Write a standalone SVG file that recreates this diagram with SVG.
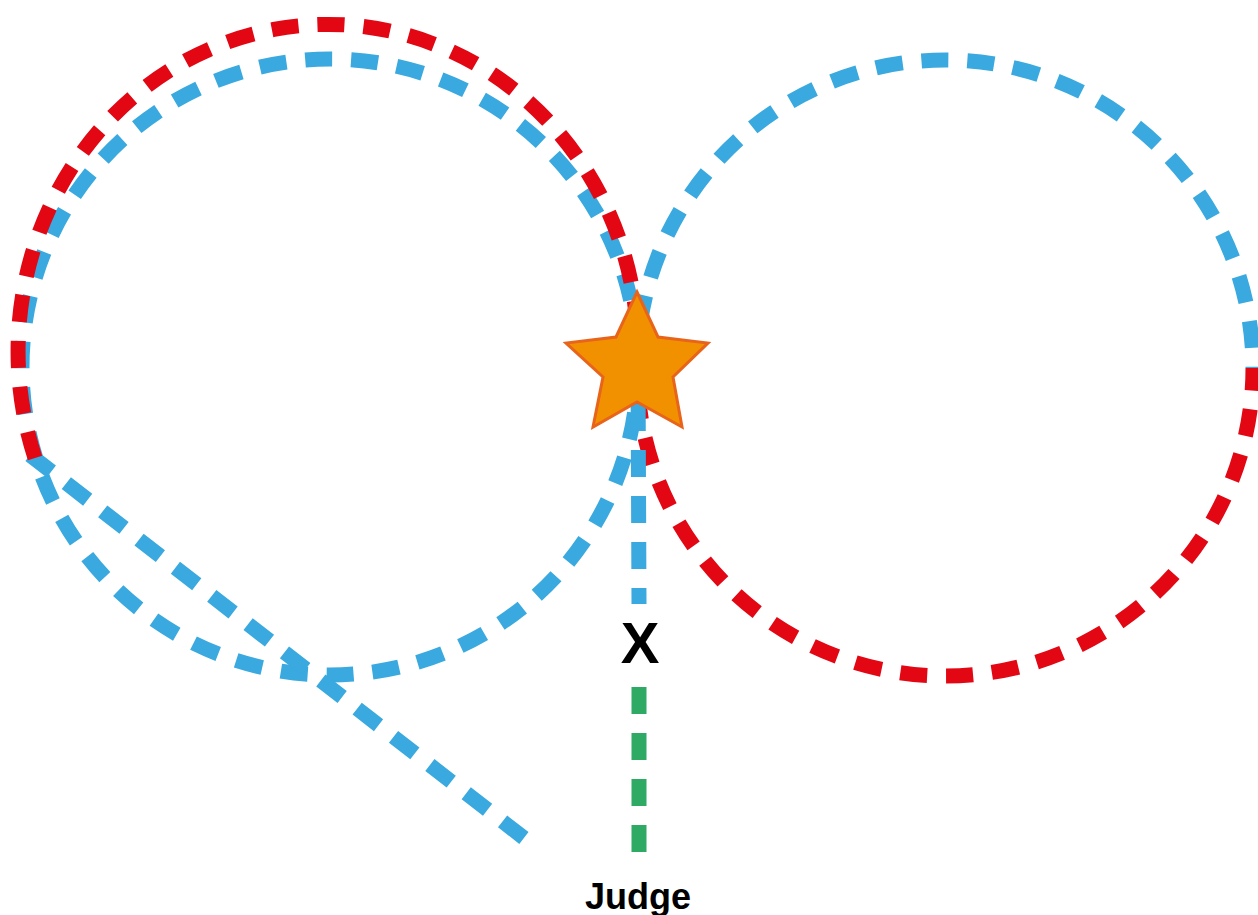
<svg xmlns="http://www.w3.org/2000/svg" width="1258" height="915" viewBox="0 0 1258 915">
<style>
.d{fill:none;stroke-width:15;stroke-dasharray:27 19;stroke-linecap:butt}
.b{stroke:#39A9DF}
.r{stroke:#E30613}
.g{stroke:#2FAA64}
.t{font-family:"Liberation Sans",Arial,sans-serif;font-weight:bold;fill:#000;text-anchor:middle}
</style>
<rect width="1258" height="915" fill="#fff"/>
<g id="connectors">
<circle class="d b" cx="330" cy="367" r="308"/>
<path class="d b" d="M637,368 A308,308 0 0 1 1253,368"/>
<path class="d b" d="M30,455 L533,845"/>
<path class="d r" d="M35,458 A310,327 0 1 1 638,345 L637,368 A308,308 0 0 0 945,676 A308,308 0 0 0 1253,368"/>
<path class="d b" d="M638,368 L639,604" stroke-dashoffset="10"/>
<path class="d g" d="M639,687 L639,853"/>
</g>
<g id="star">
<polygon points="637,292 658,337 708,343 673,377 682,427 637,402 593,427 603,377 566,343 616,337" fill="#F29100" stroke="#E8641B" stroke-width="3" stroke-linejoin="miter"/>
</g>
<g id="x-label">
<text class="t" x="640" y="663" font-size="58">X</text>
</g>
<g id="judge">
<text class="t" x="638" y="909" font-size="36">Judge</text>
</g>
</svg>
